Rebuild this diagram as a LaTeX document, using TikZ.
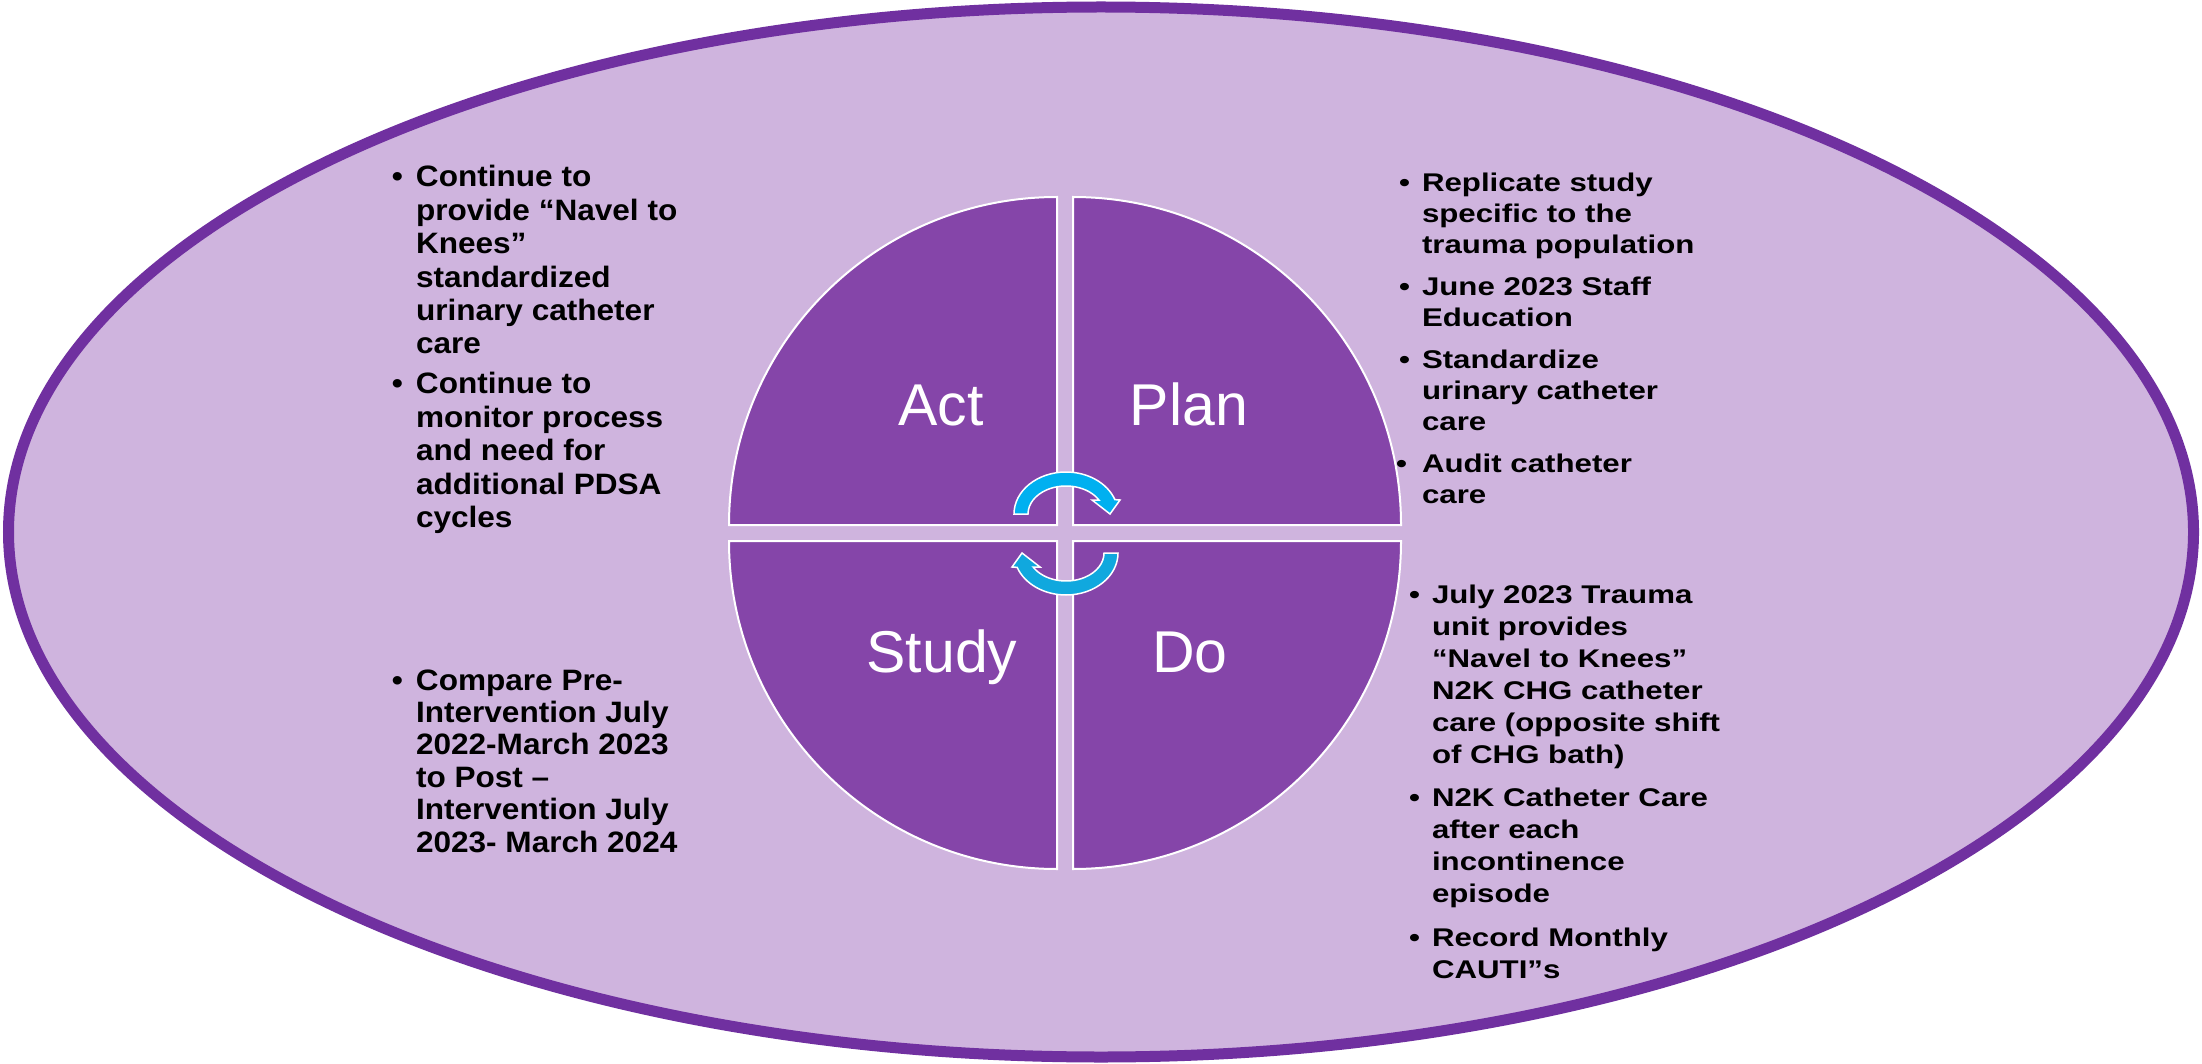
\documentclass[tikz,border=0pt]{standalone}
\usepackage{fontspec}
\setmainfont{Liberation Sans}
\newfontfamily\widesans[FakeStretch=1.22]{Liberation Sans}
\newfontfamily\notesans[FakeStretch=1.07]{Liberation Sans}

\definecolor{ringpurple}{RGB}{112,48,160}
\definecolor{lavender}{RGB}{207,180,222}
\definecolor{quadpurple}{RGB}{133,69,169}
\definecolor{cyclecyan}{RGB}{0,176,240}
\definecolor{cycleblue}{RGB}{16,168,222}

% hanging bullet, #1 = gap between bullet and text
\newcommand{\bul}[1]{\makebox[0pt][r]{\textbullet\hspace{#1}}}

\tikzset{
  quadrant/.style={fill=quadpurple, draw=white, line width=2pt},
  phase/.style={text=white, font=\fontsize{59}{59}\selectfont, inner sep=0pt, anchor=base},
  notes/.style={anchor=base west, inner sep=0pt, outer sep=0pt, text=black},
  cyclearrow/.style={draw=white, line width=1.5pt, line join=miter}
}

\begin{document}
\begin{tikzpicture}[x=1pt, y=-1pt]
\useasboundingbox (0,0) rectangle (2202,1064);
\fill[white] (0,0) rectangle (2202,1064);

% outer ellipse
\draw[ringpurple, line width=11pt, fill=lavender] (1101,532) ellipse [x radius=1092.5, y radius=525];

% four quadrants of the cycle
\path[quadrant] (1057,525) -- (729,525) arc[start angle=180, end angle=270, radius=328] -- cycle;
\path[quadrant] (1073,525) -- (1073,197) arc[start angle=270, end angle=360, radius=328] -- cycle;
\path[quadrant] (1073,541) -- (1401,541) arc[start angle=0, end angle=90, radius=328] -- cycle;
\path[quadrant] (1057,541) -- (1057,869) arc[start angle=90, end angle=180, radius=328] -- cycle;

% phase labels
\node[phase] (act) at (941,425.5) {Act};
\node[phase] (plan) at (1189,425.5) {Plan};
\node[phase] (study) at (942,672) {Study};
\node[phase] (do) at (1190,672) {Do};

% circular arrows in the middle
\path[cyclearrow, fill=cyclecyan]
  (1014,514) arc[start angle=180, end angle=340, x radius=52, y radius=42]
  -- (1120,500) -- (1110,514) -- (1092,500) -- (1098.9,500)
  arc[start angle=330, end angle=180, x radius=38, y radius=28] -- cycle;
\begin{scope}[rotate around={180:(1066,533.5)}]
\path[cyclearrow, fill=cycleblue]
  (1014,514) arc[start angle=180, end angle=340, x radius=52, y radius=42]
  -- (1120,500) -- (1110,514) -- (1092,500) -- (1098.9,500)
  arc[start angle=330, end angle=180, x radius=38, y radius=28] -- cycle;
\end{scope}

% Act notes
\node[notes] (actnotes) at (416,187) {\begin{minipage}[t]{340pt}\raggedright
\notesans\fontsize{29.5}{33.4}\selectfont\bfseries
\bul{13pt}Continue to\\ provide “Navel to\\ Knees”\\ standardized\\ urinary catheter\\ care\par
\vspace{6.5pt}
\bul{13pt}Continue to\\ monitor process\\ and need for\\ additional PDSA\\ cycles\par
\end{minipage}};

% Study notes
\node[notes] (studynotes) at (416,690) {\begin{minipage}[t]{340pt}\raggedright
\notesans\fontsize{29.5}{32.4}\selectfont\bfseries
\bul{13pt}Compare Pre-\\ Intervention July\\ 2022-March 2023\\ to Post –\\ Intervention July\\ 2023- March 2024\par
\end{minipage}};

% Plan notes
\node[notes] (plannotes) at (1422,192) {\begin{minipage}[t]{340pt}\raggedright
\widesans\fontsize{25.6}{30.8}\selectfont\bfseries
\bul{12pt}Replicate study\\ specific to the\\ trauma population\par
\vspace{11.5pt}
\bul{12pt}June 2023 Staff\\ Education\par
\vspace{11.5pt}
\bul{12pt}Standardize\\ urinary catheter\\ care\par
\vspace{11.5pt}
\bul{15pt}Audit catheter\\ care\par
\end{minipage}};

% Do notes
\node[notes] (donotes) at (1432,603) {\begin{minipage}[t]{340pt}\raggedright
\widesans\fontsize{25.6}{32}\selectfont\bfseries
\bul{12pt}July 2023 Trauma\\ unit provides\\ “Navel to Knees”\\ N2K CHG catheter\\ care (opposite shift\\ of CHG bath)\par
\vspace{11.5pt}
\bul{12pt}N2K Catheter Care\\ after each\\ incontinence\\ episode\par
\vspace{11.5pt}
\bul{12pt}Record Monthly\\ CAUTI”s\par
\end{minipage}};
\end{tikzpicture}
\end{document}
